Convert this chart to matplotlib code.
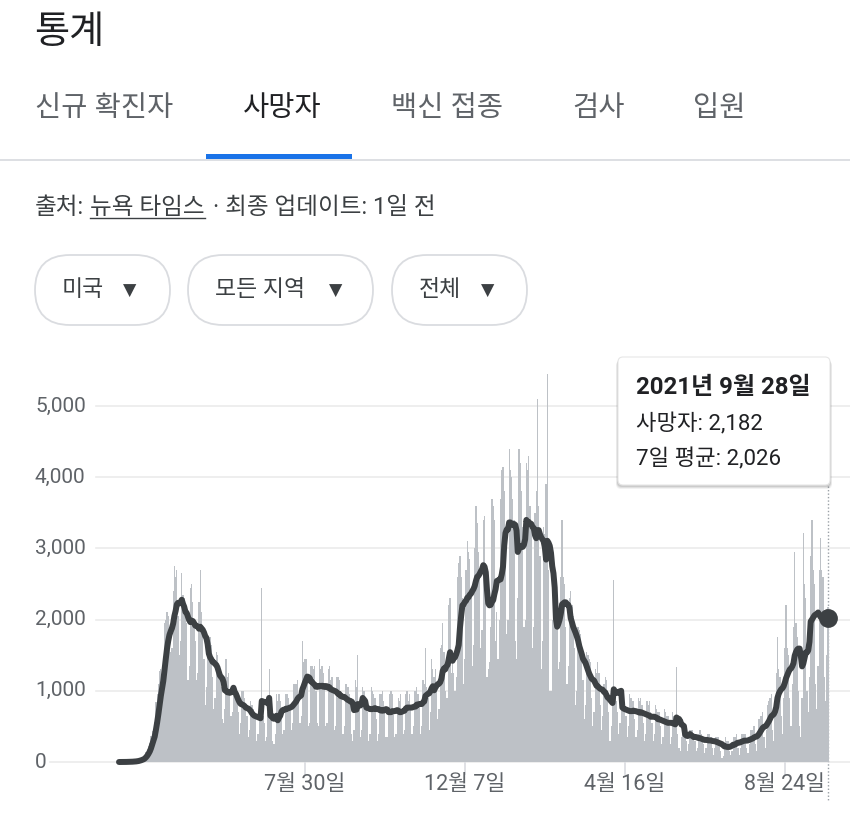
import matplotlib
matplotlib.use("Agg")
import matplotlib.pyplot as plt
import matplotlib.transforms as mtransforms
from matplotlib.patches import FancyBboxPatch, Rectangle
import pandas as pd

plt.rcParams['font.family'] = ['Roboto', 'Noto Sans CJK KR', 'DejaVu Sans']

# ---- data (US daily deaths) ----
start_date = "2020-03-01"
# one row per week, Sunday .. Saturday
daily_deaths_by_week = [
    [0, 0, 1, 1, 2, 2, 2],
    [3, 4, 5, 6, 8, 10, 12],
    [15, 20, 28, 36, 48, 58, 60],
    [100, 140, 180, 230, 270, 360, 440],
    [460, 560, 840, 960, 1090, 1280, 1310],
    [1200, 1300, 1950, 2000, 2100, 2050, 1900],
    [1550, 1600, 2400, 2750, 2600, 2700, 2050],
    [1500, 1700, 2650, 2350, 2300, 2200, 1950],
    [1150, 1350, 2450, 2500, 2250, 2000, 1700],
    [1150, 1250, 2250, 2700, 2100, 1850, 1450],
    [800, 1050, 1650, 1750, 1750, 1650, 1200],
    [750, 900, 1550, 1500, 1350, 1250, 1050],
    [600, 550, 750, 1450, 1200, 1250, 1000],
    [650, 700, 1050, 1050, 1000, 950, 700],
    [400, 550, 1000, 1000, 900, 800, 650],
    [350, 450, 850, 800, 750, 700, 600],
    [300, 400, 800, 750, 2450, 650, 550],
    [300, 350, 700, 1300, 700, 650, 300],
    [250, 400, 950, 850, 950, 850, 700],
    [400, 450, 950, 950, 950, 900, 750],
    [450, 550, 1100, 1100, 1100, 1150, 900],
    [550, 650, 1700, 1400, 1450, 1450, 1200],
    [500, 550, 1350, 1350, 1300, 1350, 1000],
    [550, 500, 1450, 1300, 1350, 1250, 1050],
    [500, 550, 1300, 1350, 1150, 1200, 1000],
    [450, 500, 1200, 1200, 1150, 1000, 950],
    [400, 500, 1100, 1100, 1050, 950, 850],
    [400, 300, 450, 1150, 1050, 1500, 750],
    [350, 450, 1050, 1000, 900, 850, 700],
    [300, 400, 1050, 1000, 950, 900, 600],
    [300, 400, 950, 950, 1000, 850, 700],
    [350, 350, 700, 950, 1000, 950, 700],
    [350, 400, 750, 900, 850, 950, 750],
    [400, 450, 950, 1000, 850, 950, 750],
    [400, 500, 1000, 1000, 1050, 950, 800],
    [400, 500, 1150, 1100, 1600, 1050, 900],
    [450, 700, 1450, 1300, 1200, 1300, 1100],
    [600, 750, 1600, 1650, 1950, 1550, 1000],
    [900, 900, 2200, 2300, 1250, 1400, 1250],
    [1000, 1200, 2600, 2800, 2900, 2600, 2300],
    [1100, 1450, 2700, 3100, 2950, 2850, 2400],
    [1350, 1650, 3000, 3600, 3350, 2950, 2600],
    [1600, 1850, 3400, 3450, 2800, 1200, 1300],
    [1400, 1900, 3700, 3600, 3400, 1700, 2100],
    [1450, 2000, 3700, 4100, 4150, 3800, 3300],
    [1800, 2000, 4400, 4100, 4000, 3700, 3400],
    [1700, 1450, 2300, 4400, 4200, 3800, 3300],
    [1900, 2000, 4200, 4100, 4300, 3600, 3300],
    [1600, 1900, 3500, 3800, 5100, 3600, 2900],
    [1300, 1700, 3300, 3200, 3900, 5450, 2700],
    [1000, 1000, 2000, 2500, 2500, 2400, 1900],
    [1300, 1400, 2600, 3400, 2600, 2500, 1900],
    [1100, 1350, 2300, 2400, 2200, 2050, 1600],
    [800, 1000, 1900, 1850, 1800, 1650, 1150],
    [600, 800, 1550, 1500, 1450, 1400, 900],
    [500, 700, 1300, 1250, 1400, 1250, 800],
    [450, 650, 1100, 1200, 1150, 1000, 700],
    [300, 500, 950, 2550, 950, 850, 700],
    [400, 550, 1000, 900, 850, 800, 650],
    [350, 500, 950, 900, 850, 850, 600],
    [350, 450, 900, 850, 900, 800, 550],
    [300, 400, 850, 800, 850, 700, 550],
    [300, 400, 800, 750, 700, 700, 500],
    [250, 350, 750, 700, 650, 650, 500],
    [250, 350, 700, 650, 600, 1330, 400],
    [200, 150, 350, 600, 500, 500, 300],
    [150, 250, 450, 450, 450, 400, 300],
    [150, 200, 400, 450, 400, 350, 250],
    [120, 200, 400, 400, 400, 350, 200],
    [100, 200, 350, 350, 350, 300, 150],
    [50, 80, 250, 350, 300, 300, 150],
    [100, 150, 350, 350, 350, 400, 200],
    [100, 200, 400, 400, 400, 400, 200],
    [120, 250, 450, 450, 450, 500, 250],
    [150, 350, 600, 650, 650, 700, 350],
    [200, 450, 800, 850, 900, 950, 450],
    [300, 700, 1250, 1750, 1300, 1200, 650],
    [400, 900, 1600, 2200, 1600, 1500, 900],
    [500, 1100, 1900, 2950, 1950, 1750, 1000],
    [500, 350, 900, 3220, 2500, 2300, 1000],
    [700, 1200, 2900, 3400, 2700, 2500, 1100],
    [750, 1350, 2700, 3150, 2700, 2600, 1200],
    [850, 1500, 2182],
]

tabs = ["신규 확진자", "사망자", "백신 접종", "검사", "입원"]
filters = ["미국", "모든 지역", "전체"]
tick_dates = ["2020-07-30", "2020-12-07", "2021-04-16", "2021-08-24"]
tick_labels = ["7월 30일", "12월 7일", "4월 16일", "8월 24일"]
y_ticks = [0, 1000, 2000, 3000, 4000, 5000]

deaths = [v for week in daily_deaths_by_week for v in week]
dates = pd.date_range(start_date, periods=len(deaths), freq="D")
days = list(range(len(deaths)))
avg7 = pd.Series(deaths).rolling(7, min_periods=1).mean()

# colours
DARK = "#202124"
GREY = "#5f6368"
LINE = "#3c4043"
BAR = "#bdc1c6"
GRID = "#ebebeb"

fig = plt.figure(figsize=(8.5, 8.35), dpi=100)
renderer = fig.canvas.get_renderer()

# pixel-space background axes (x 0..850, y 0..835 top-down)
bg = fig.add_axes([0, 0, 1, 1])
bg.set_xlim(0, 850)
bg.set_ylim(835, 0)
bg.axis("off")

# header
bg.text(34, 33, "통계", fontsize=27.5, color=DARK, va="center", ha="left")
tab_x = [35, 243, 391, 572, 693]
for name, x in zip(tabs, tab_x):
    active = name == "사망자"
    bg.text(x, 108, name, fontsize=20.5, va="center", ha="left",
            color=DARK if active else GREY,
            fontweight="medium" if active else "normal")
bg.plot([0, 850], [160, 160], color="#dadce0", lw=1.3)
bg.add_patch(Rectangle((206, 154), 146, 5, color="#1a73e8", lw=0))

# source line (pieces chained left to right)
src_y = 207
x = 35
for s, under, gap in [("출처:", False, 6), ("뉴욕 타임스", True, 8),
                      ("· 최종 업데이트: 1일 전", False, 0)]:
    t = bg.text(x, src_y, s, fontsize=17, color=LINE, va="center", ha="left")
    w = t.get_window_extent(renderer=renderer).width
    if under:
        bg.plot([x, x + w], [218, 218], color=LINE, lw=1.0)
    x += w + gap

# filter chips
chip_x = [35, 188, 392]
chip_w = [135, 185, 135]
arrow_x = [130, 336, 488]
for name, x, w, ax_ in zip(filters, chip_x, chip_w, arrow_x):
    bg.add_patch(FancyBboxPatch((x, 255), w, 70,
                                boxstyle="round,pad=0,rounding_size=35",
                                fc="white", ec="#dadce0", lw=1.3))
    bg.text(x + 27, 290, name, fontsize=16.5, color=LINE, va="center", ha="left")
    bg.text(ax_, 291, "▼", fontsize=12.5, color=LINE, va="center", ha="center",
            family=["DejaVu Sans"])

# ---- chart axes ----
px_per_day = 160 / 130.0
x0_px = 119
ax = fig.add_axes([0, 0, 1, 495 / 835])
ax.set_xlim(-x0_px / px_per_day, (850 - x0_px) / px_per_day)
ax.set_ylim(-(835 - 762) / 71.2 * 1000, (762 - 340) / 71.2 * 1000)
ax.axis("off")

px_y = mtransforms.blended_transform_factory(bg.transData, ax.transData)
x_px = mtransforms.blended_transform_factory(ax.transData, bg.transData)

for v in y_ticks:
    start = 50 if v == 0 else 96
    ax.plot([start, 850], [v, v], color=GRID, lw=1.2, transform=px_y, zorder=1)
    ax.text(35, v, f"{v:,}", fontsize=15, color=GREY, va="center", ha="left",
            transform=px_y)

ax.bar(days, deaths, width=1.0, color=BAR, lw=0, zorder=2)
ax.plot(days, avg7, color=LINE, lw=4.3, solid_joinstyle="round",
        solid_capstyle="round", zorder=3)
ax.plot(days[-1], avg7.iloc[-1], "o", ms=12.5, color=LINE, zorder=4)

start_ts = pd.Timestamp(start_date)
for d, lab in zip(tick_dates, tick_labels):
    xd = (pd.Timestamp(d) - start_ts).days
    ax.plot([xd, xd], [763, 774], color="#dadce0", lw=1.2, transform=x_px)
    ax.text(xd, 785, lab, fontsize=15.5, color=GREY, va="center", ha="center",
            transform=x_px)

ax.plot([days[-1], days[-1]], [486, 800], color="#9aa0a6", lw=1.0,
        ls=(0, (1, 1.5)), transform=x_px, zorder=1)

# ---- tooltip ----
top = fig.add_axes([0, 0, 1, 1])
top.set_xlim(0, 850)
top.set_ylim(835, 0)
top.axis("off")
for off, a in [(4, 0.05), (3, 0.07), (2, 0.09)]:
    top.add_patch(FancyBboxPatch((618 - off / 2, 357 + off), 212 + off, 128,
                                 boxstyle="round,pad=0,rounding_size=5",
                                 fc="black", ec="none", alpha=a))
top.add_patch(FancyBboxPatch((618, 357), 212, 128,
                             boxstyle="round,pad=0,rounding_size=5",
                             fc="white", ec="#e6e6e6", lw=0.8))
last = dates[-1]
top.text(636, 388, f"{last.year}년 {last.month}월 {last.day}일", fontsize=17.3,
         fontweight="bold", color=DARK, va="center", ha="left")
top.text(636, 424, f"사망자: {deaths[-1]:,}", fontsize=16, color=DARK,
         va="center", ha="left")
top.text(636, 459, f"7일 평균: {avg7.iloc[-1]:,.0f}", fontsize=16, color=DARK,
         va="center", ha="left")

fig.savefig("out.png", dpi=100)
